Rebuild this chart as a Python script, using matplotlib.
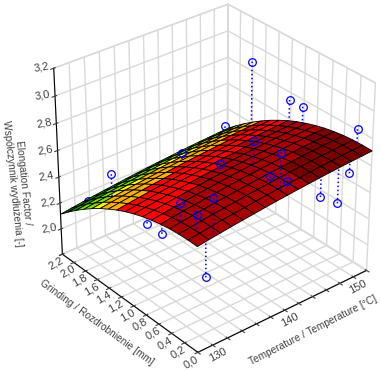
import numpy as np
import matplotlib
matplotlib.use('Agg')
import matplotlib.pyplot as plt
from matplotlib.colors import ListedColormap, BoundaryNorm
from matplotlib.text import Text

plt.rcParams['font.family'] = ['Liberation Sans', 'DejaVu Sans']
plt.rcParams['grid.color'] = '#d9d9d9'
plt.rcParams['grid.linewidth'] = 1.0

temperature = [128, 129.5, 131, 132.5, 134, 135.5, 137, 138.5, 140, 141.5, 143, 144.5, 146, 147.5, 149, 150.5, 152]
grinding = [0, 0.1375, 0.275, 0.4125, 0.55, 0.6875, 0.825, 0.9625, 1.1, 1.2375, 1.375, 1.5125, 1.65, 1.7875, 1.925, 2.0625, 2.2]
surface = [
 [2.580,2.592,2.603,2.614,2.624,2.633,2.643,2.652,2.660,2.668,2.675,2.682,2.689,2.695,2.700,2.705,2.710],
 [2.582,2.594,2.605,2.616,2.626,2.635,2.645,2.654,2.662,2.670,2.677,2.684,2.691,2.697,2.702,2.707,2.712],
 [2.580,2.592,2.603,2.614,2.624,2.633,2.643,2.652,2.660,2.668,2.675,2.682,2.689,2.695,2.700,2.705,2.710],
 [2.574,2.586,2.597,2.608,2.618,2.627,2.637,2.646,2.654,2.662,2.669,2.676,2.683,2.689,2.694,2.699,2.704],
 [2.563,2.575,2.586,2.597,2.607,2.616,2.626,2.635,2.643,2.651,2.658,2.665,2.672,2.678,2.683,2.688,2.693],
 [2.549,2.561,2.572,2.583,2.593,2.602,2.612,2.621,2.629,2.637,2.644,2.651,2.658,2.664,2.669,2.674,2.679],
 [2.530,2.542,2.553,2.564,2.574,2.583,2.593,2.602,2.610,2.618,2.625,2.632,2.639,2.645,2.650,2.655,2.660],
 [2.507,2.519,2.530,2.541,2.551,2.560,2.570,2.579,2.587,2.595,2.602,2.609,2.616,2.622,2.627,2.632,2.637],
 [2.480,2.492,2.503,2.514,2.524,2.533,2.543,2.552,2.560,2.568,2.575,2.582,2.589,2.595,2.600,2.605,2.610],
 [2.449,2.461,2.472,2.483,2.493,2.502,2.512,2.521,2.529,2.537,2.544,2.551,2.558,2.564,2.569,2.574,2.579],
 [2.413,2.425,2.436,2.447,2.457,2.466,2.476,2.485,2.493,2.501,2.508,2.515,2.522,2.528,2.533,2.538,2.543],
 [2.374,2.386,2.397,2.408,2.418,2.427,2.437,2.446,2.454,2.462,2.469,2.476,2.483,2.489,2.494,2.499,2.504],
 [2.330,2.342,2.353,2.364,2.374,2.383,2.393,2.402,2.410,2.418,2.425,2.432,2.439,2.445,2.450,2.455,2.460],
 [2.282,2.294,2.305,2.316,2.326,2.335,2.345,2.354,2.362,2.370,2.377,2.384,2.391,2.397,2.402,2.407,2.412],
 [2.230,2.242,2.253,2.264,2.274,2.283,2.293,2.302,2.310,2.318,2.325,2.332,2.339,2.345,2.350,2.355,2.360],
 [2.174,2.186,2.197,2.208,2.218,2.227,2.237,2.246,2.254,2.262,2.269,2.276,2.283,2.289,2.294,2.299,2.304],
 [2.114,2.126,2.137,2.148,2.158,2.167,2.177,2.186,2.194,2.202,2.209,2.216,2.223,2.229,2.234,2.239,2.244],
]
point_t = [152.0,151.4,151.5,151.5,149.5,145.2,147.6,140.4,140.1,140.2,140.9,139.4,130.1,129.7,129.7,129.1,128.0,128.2,130.8,129.2,141.2,149.7]
point_g = [1.81,1.16,0.97,0.17,0.07,0.05,0.04,0.54,0.11,0.27,0.10,0.93,0.00,0.20,0.44,0.00,0.53,0.78,1.66,1.87,1.74,1.99]
point_z = [2.87,2.77,2.77,2.83,2.58,2.51,2.41,2.88,2.93,2.71,2.71,2.62,2.87,2.70,2.71,2.33,2.50,2.49,2.52,2.29,2.42,2.37]
point_above = [1,1,1,1,0,0,0,1,1,1,1,1,1,1,1,0,0,0,1,0,1,0]
levels = [1.8,2.16,2.24,2.33,2.36,2.46,2.57,2.675,3.3]
band_colors = ['#006400','#00a000','#80e000','#ffff00','#ffb000','#ff0000','#a80000','#7a0000']
t_ticks = list(range(128,153,2))
t_labels = ['','130','','','','','140','','','','','150','']
g_ticks = [0,0.2,0.4,0.6,0.8,1.0,1.2,1.4,1.6,1.8,2.0,2.2]
g_labels = ['0,0','0,2','0,4','0,6','0,8','1,0','1,2','1,4','1,6','1,8','2,0','2,2']
z_ticks = [1.8,2.0,2.2,2.4,2.6,2.8,3.0,3.2]
z_labels = ['','2,0','2,2','2,4','2,6','2,8','3,0','3,2']

fig = plt.figure(figsize=(3.81,3.71), dpi=100)
ax = fig.add_axes([18/381,9/371,1,1], projection='3d', computed_zorder=False)
TT, GG = np.meshgrid(temperature, grinding)
Z = np.array(surface)
cm = ListedColormap(band_colors); nm = BoundaryNorm(levels, 8)
Zc = (Z[:-1,:-1]+Z[1:,1:]+Z[1:,:-1]+Z[:-1,1:])/4
ax.set_xlim(128,152); ax.set_ylim(0,2.2); ax.set_zlim(1.8,3.2)

ti = [int(np.argmin(np.abs(np.array(temperature)-v))) for v in point_t]
gi = [int(np.argmin(np.abs(np.array(grinding)-v))) for v in point_g]
foot = [Z[j,i] for i,j in zip(ti,gi)]
for pt,pg,pz,f,up in zip(point_t,point_g,point_z,foot,point_above):
    if not up:
        ax.plot([pt,pt],[pg,pg],[pz,f],color='#0000ff',ls=':',lw=1.1,zorder=1)
        ax.plot([pt],[pg],[pz],marker='o',mfc='none',mec='#0000ff',mew=.9,ms=5.5,ls='none',zorder=1)
ax.plot_surface(TT,GG,Z,facecolors=cm(nm(Zc)),edgecolor='black',linewidth=.6,shade=False,antialiased=True,zorder=2)
for pt,pg,pz,f,up in zip(point_t,point_g,point_z,foot,point_above):
    if up:
        ax.plot([pt,pt],[pg,pg],[pz,f],color='#0000ff',ls=':',lw=1.1,zorder=3)
        ax.plot([pt],[pg],[pz],marker='o',mfc='none',mec='#0000ff',mew=.9,ms=5.5,ls='none',zorder=3)

ax.set_xticks(t_ticks); ax.set_xticklabels(t_labels, rotation=28, va='center', ha='center')
ax.set_yticks(g_ticks); ax.set_yticklabels(g_labels, rotation=30, va='center', ha='center')
ax.set_zticks(z_ticks); ax.set_zticklabels(z_labels, rotation=10, va='center', ha='center')
ax.set_xlim(128,152); ax.set_ylim(0,2.2); ax.set_zlim(1.8,3.2)
ax.view_init(elev=31, azim=-129.5)
ax._dist = 8
ax.set_box_aspect((1,1,.98), zoom=.8)
for a in (ax.xaxis,ax.yaxis,ax.zaxis):
    a.set_pane_color((1,1,1,1)); a.pane.set_edgecolor('#d9d9d9')
    a.line.set_color('black')
    a.set_rotate_label(False)
ax.xaxis.set_tick_params(labelsize=8, colors='#404040', pad=-3)
ax.yaxis.set_tick_params(labelsize=8, colors='#404040', pad=-3)
ax.zaxis.set_tick_params(labelsize=8, colors='#404040', pad=-2.5)
ax.set_xlabel('Temperature / Temperature [°C]', rotation=27, fontsize=7.3, color='#404040')
ax.set_ylabel('Grinding / Rozdrobnienie [mm]', rotation=-36, fontsize=7.3, color='#404040')
ax.set_zlabel('Elongation Factor /\nWspółczynnik wydłużenia [-]', rotation=-84, fontsize=7.3, color='#404040')
fig.canvas.draw()
# pin the axis labels to fixed places in the figure
for lab, (lx, ly) in ((ax.xaxis.label,(313,330)), (ax.yaxis.label,(97,322)), (ax.zaxis.label,(18,183))):
    pos = ax.transData.inverted().transform((lx, 371-ly))
    Text.set_position(lab, tuple(pos))
    lab.set_position = lambda *_: None
fig.savefig('out.png', dpi=100)
